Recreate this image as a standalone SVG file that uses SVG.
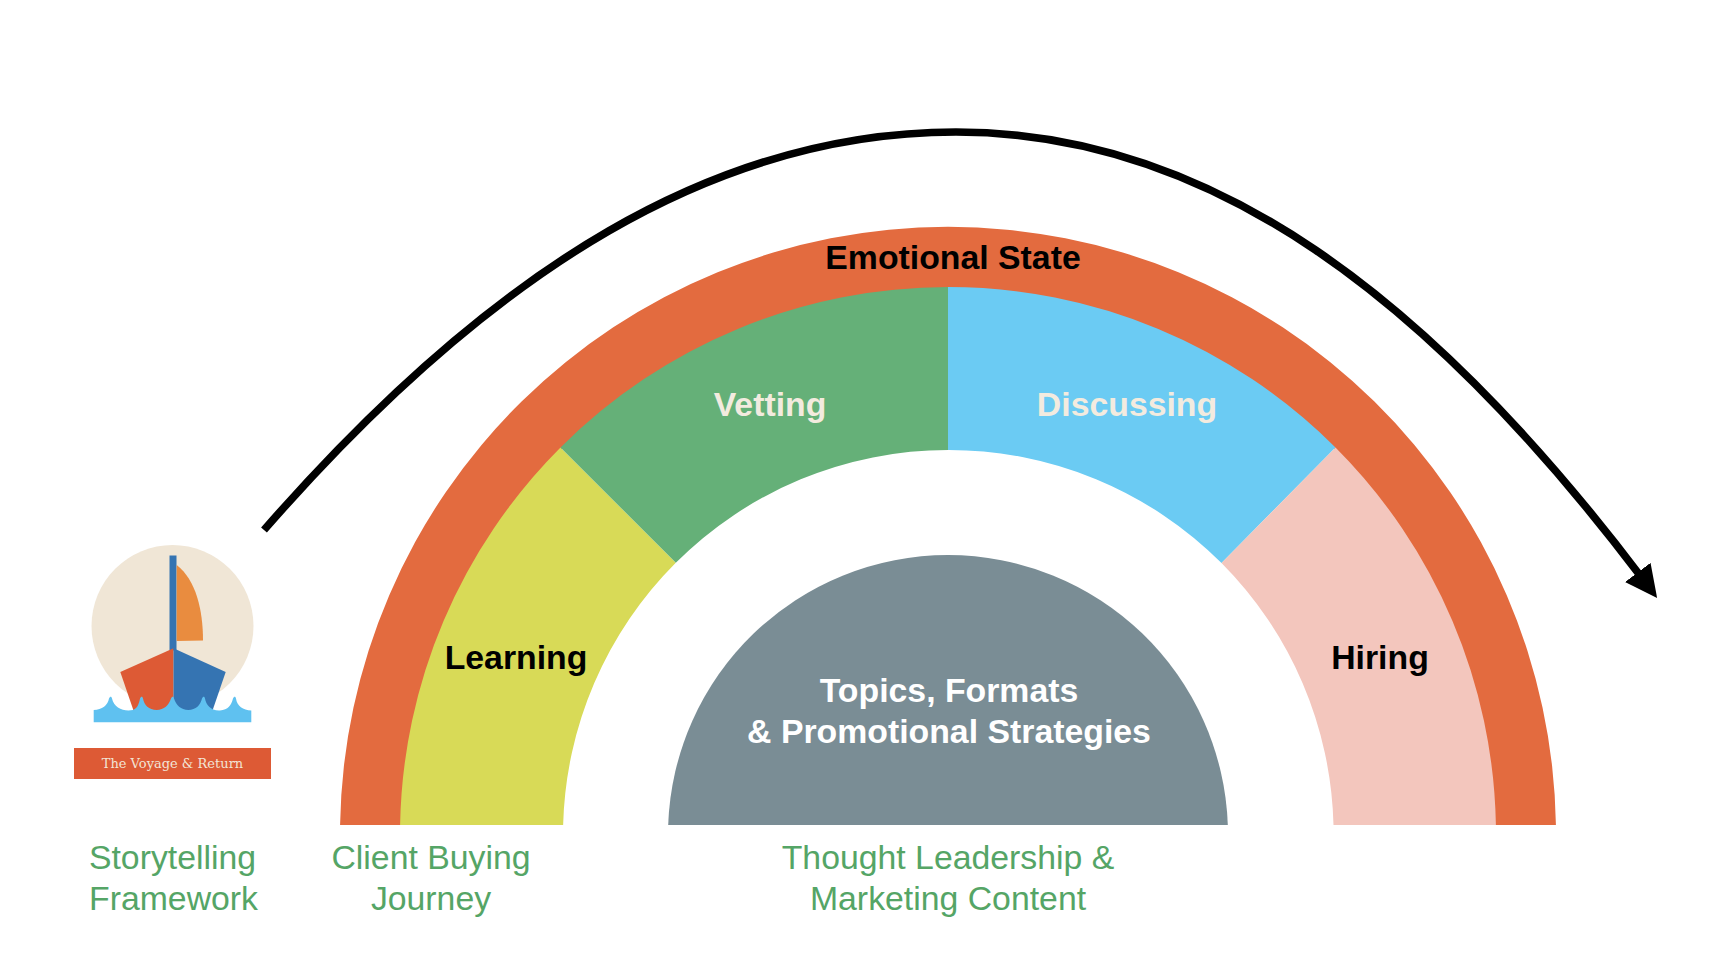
<svg xmlns="http://www.w3.org/2000/svg" width="1720" height="962" viewBox="0 0 1720 962">
<style>
text{font-family:"Liberation Sans",Arial,sans-serif;text-anchor:middle}
.b{font-weight:700;font-size:33.8px}
.g{fill:#55a566;font-size:33.8px}
</style>
<defs>
<marker id="ah" markerUnits="userSpaceOnUse" markerWidth="40" markerHeight="40" refX="7" refY="16" orient="auto"><path d="M0 0L32 16L0 32Z" fill="#000"/></marker>
</defs>
<rect width="1720" height="962" fill="#fff"/>
<g id="emotional-state"><path d="M340.080 825A608 608 0 0 1 1555.920 825H1493.910A546 546 0 0 0 402.090 825Z" fill="#e36b3f"/><text class="b" x="953" y="269">Emotional State</text></g>
<g id="learning"><path d="M400.090 825A548 548 0 0 1 560.500 447.500L675.800 562.800A385 385 0 0 0 563.130 825Z" fill="#d8da57"/><text class="b" x="516" y="669">Learning</text></g>
<g id="vetting"><path d="M560.500 447.500A548 548 0 0 1 948 287V450A385 385 0 0 0 675.800 562.800Z" fill="#65b078"/><text class="b" x="770" y="416" fill="#f3ebdf">Vetting</text></g>
<g id="discussing"><path d="M948 287A548 548 0 0 1 1335.500 447.500L1221.500 563A385 385 0 0 0 948 450Z" fill="#6bcbf3"/><text class="b" x="1127" y="416" fill="#f3ebdf">Discussing</text></g>
<g id="hiring"><path d="M1335.500 447.500A548 548 0 0 1 1495.910 825H1333.500A385 385 0 0 0 1221.500 563Z" fill="#f3c6bd"/><text class="b" x="1380" y="669">Hiring</text></g>
<g id="topics"><path d="M668.180 825A280 280 0 0 1 1227.820 825Z" fill="#7a8d95"/><text class="b" x="949" y="702" fill="#fff">Topics, Formats</text><text class="b" x="949" y="743" fill="#fff">&amp; Promotional Strategies</text></g>
<g id="boat">
<circle cx="172.500" cy="626" r="81" fill="#f0e6d6"/>
<rect x="169.500" y="555.500" width="7" height="95" fill="#3574b2"/>
<path d="M176.700 565C196 580 203 610 203 640.500L176.700 641Z" fill="#e98c3f"/>
<path d="M173.500 648.300L120.300 672L134 712H173.500Z" fill="#dd5a35"/>
<path d="M173.500 648.300L225.700 672L212 712H173.500Z" fill="#3574b2"/>
<path d="M93.700 722.300V710C102 710 108 705 109 698.500C110 696 111.500 696 112 698.500C114 708 124 712 133 710C138 708 139 703 140 698.500C141 696 142.500 696 143 698.500C144 705 149 710 156.700 710C164 710 169 705 171 698.500C172 696 173.500 696 174 698.500C176 705 181 710 188.300 710C196 710 200.500 705 202 698.500C203 696 204.500 696 205 698.500C206 705 211 711 220 710.500C228 710 231.500 705 233 698.500C234 696 235.500 696 236 698.500C237 706 243 710 251.300 710.500V722.300Z" fill="#5fc1f0"/>
<rect x="74" y="748" width="197" height="31" fill="#dd5a35"/>
<text x="172.500" y="768" font-size="13" style="font-family:'DejaVu Serif',serif" fill="#f2e4d5">The Voyage &amp; Return</text>
</g>
<g id="labels">
<text class="g" x="172.500" y="869">Storytelling</text><text class="g" x="173.500" y="910">Framework</text>
<text class="g" x="431" y="869">Client Buying</text><text class="g" x="431" y="910">Journey</text>
<text class="g" x="948" y="869">Thought Leadership &amp;</text><text class="g" x="948" y="910">Marketing Content</text>
</g>
<g id="connectors"><path d="M264 530C497 263 720 132 956 132C1212 132 1430 298 1642 578" fill="none" stroke="#000" stroke-width="7.700" marker-end="url(#ah)"/></g>
</svg>
